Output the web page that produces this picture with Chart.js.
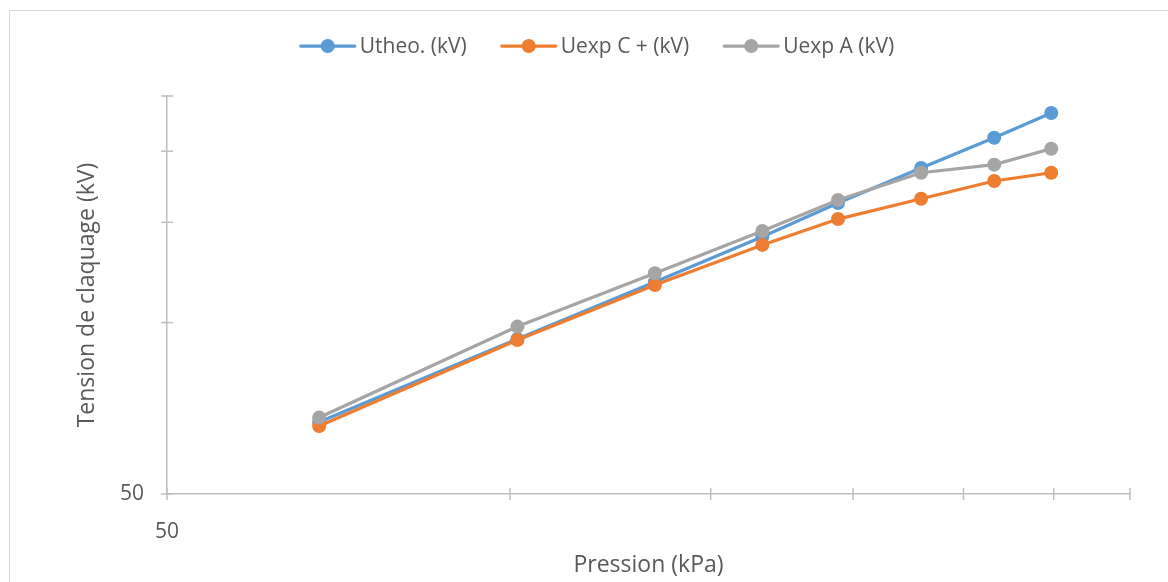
<!DOCTYPE html>
<html>
<head>
<meta charset="utf-8">
<title>Tension de claquage</title>
<script src="https://cdn.jsdelivr.net/npm/chart.js@4.4.1/dist/chart.umd.min.js"></script>
<style>
    html, body { margin: 0; padding: 0; background: #ffffff; }
    #wrap { width: 1168px; height: 582px; }
</style>
</head>
<body>
<div id="wrap"><canvas id="chart" width="1168" height="582"></canvas></div>
<script>
// Valeurs (échelles log)
const pression = [68, 101.5, 134, 166.5, 194, 229.5, 266, 298.5];
const uTheo = [66.9, 93.6, 117.8, 141.5, 162.2, 186.9, 211.2, 233.4];
const uExpC = [65.8, 93.2, 116.4, 136.9, 152.0, 165.0, 177.3, 183.3];
const uExpA = [68.1, 98.4, 122.1, 144.8, 164.2, 183.3, 189.4, 202.0];

// Graduations des axes
const xTicks = [50, 100, 150, 200, 250, 300, 350];
const yTicks = [50, 100, 150, 200, 250];
const xTickLabels = ["50", "", "", "", "", "", ""];
const yTickLabels = ["50", "", "", "", ""];

const seriesNames = ["Utheo. (kV)", "Uexp C + (kV)", "Uexp A (kV)"];
const seriesColors = ["#5B9BD5", "#ED7D31", "#A5A5A5"];

const FONT = "'Open Sans'";
const TEXT = "#595959";
const AXIS = "#BFBFBF";

function points(ys) {
    return pression.map((p, i) => ({ x: p, y: ys[i] }));
}

// Cadre gris clair autour du graphique
const frame = {
    id: "frame",
    beforeDraw(chart) {
        const ctx = chart.ctx;
        ctx.save();
        ctx.strokeStyle = "#D9D9D9";
        ctx.lineWidth = 1;
        ctx.strokeRect(9.5, 10.5, 1300, 700);
        ctx.restore();
    }
};

// Graduations qui traversent l'axe (comme Excel)
const crossTicks = {
    id: "crossTicks",
    beforeDatasetsDraw(chart) {
        const { ctx, scales: { x, y } } = chart;
        ctx.save();
        ctx.strokeStyle = AXIS;
        ctx.lineWidth = 1.5;
        x.ticks.forEach((t, i) => {
            const px = x.getPixelForTick(i);
            ctx.beginPath();
            ctx.moveTo(px, x.top - 6);
            ctx.lineTo(px, x.top + 6);
            ctx.stroke();
        });
        y.ticks.forEach((t, i) => {
            const py = y.getPixelForTick(i);
            ctx.beginPath();
            ctx.moveTo(y.right - 6, py);
            ctx.lineTo(y.right + 6, py);
            ctx.stroke();
        });
        ctx.restore();
    }
};

// Légende: trait + marqueur rond
const lineLegend = {
    id: "lineLegend",
    afterDraw(chart) {
        const ctx = chart.ctx;
        ctx.save();
        ctx.font = "21px " + FONT;
        const widths = seriesNames.map(n => 54 + 5 + ctx.measureText(n).width);
        const total = widths.reduce((a, b) => a + b, 0) + 35 * (widths.length - 1);
        let x = 597.5 - total / 2;
        const y = 46;
        seriesNames.forEach((name, i) => {
            ctx.strokeStyle = seriesColors[i];
            ctx.lineWidth = 3.25;
            ctx.lineCap = "round";
            ctx.beginPath();
            ctx.moveTo(x, y);
            ctx.lineTo(x + 54, y);
            ctx.stroke();
            ctx.fillStyle = seriesColors[i];
            ctx.beginPath();
            ctx.arc(x + 27, y, 7, 0, Math.PI * 2);
            ctx.fill();
            ctx.fillStyle = TEXT;
            ctx.textAlign = "left";
            ctx.textBaseline = "middle";
            ctx.fillText(name, x + 59, y + 1);
            x += widths[i] + 35;
        });
        ctx.restore();
    }
};

const series = [uTheo, uExpC, uExpA];

new Chart(document.getElementById("chart"), {
    type: "line",
    data: {
        datasets: series.map((s, i) => ({
            label: seriesNames[i],
            data: points(s),
            borderColor: seriesColors[i],
            backgroundColor: seriesColors[i],
            pointBackgroundColor: seriesColors[i],
            pointBorderColor: seriesColors[i],
            pointBorderWidth: 0,
            pointRadius: 7,
            borderWidth: 3.25,
            tension: 0,
            order: 2 - i
        }))
    },
    options: {
        responsive: false,
        animation: false,
        devicePixelRatio: 1,
        layout: { padding: { left: 0, right: 38, top: 96, bottom: 0 } },
        plugins: {
            legend: { display: false },
            tooltip: { enabled: false }
        },
        scales: {
            x: {
                type: "logarithmic",
                min: 50,
                max: 350,
                afterBuildTicks: s => { s.ticks = xTicks.map(v => ({ value: v })); },
                afterFit: s => { s.height = 88; },
                ticks: {
                    callback: (v, i) => xTickLabels[i],
                    color: TEXT,
                    font: { size: 21, family: FONT },
                    padding: 17,
                    autoSkip: false,
                    maxRotation: 0
                },
                grid: { display: false },
                border: { display: true, color: AXIS, width: 1.5 },
                title: {
                    display: true,
                    text: "Pression (kPa)",
                    color: TEXT,
                    font: { size: 23, family: FONT },
                    padding: { top: 0, bottom: 3 }
                }
            },
            y: {
                type: "logarithmic",
                min: 50,
                max: 250,
                afterBuildTicks: s => { s.ticks = yTicks.map(v => ({ value: v })); },
                afterFit: s => { s.width = 167; },
                ticks: {
                    callback: (v, i) => yTickLabels[i],
                    color: TEXT,
                    font: { size: 21, family: FONT },
                    padding: 15,
                    autoSkip: false
                },
                grid: { display: false },
                border: { display: true, color: AXIS, width: 1.5 },
                title: {
                    display: true,
                    text: "Tension de claquage (kV)",
                    color: TEXT,
                    font: { size: 23, family: FONT },
                    padding: { top: 74, bottom: 0 }
                }
            }
        }
    },
    plugins: [frame, crossTicks, lineLegend]
});
</script>
</body>
</html>
